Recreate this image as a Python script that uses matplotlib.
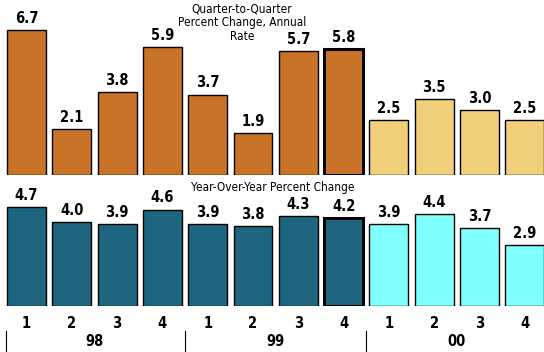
import matplotlib.pyplot as plt
from matplotlib.transforms import blended_transform_factory

quarters = ["1", "2", "3", "4", "1", "2", "3", "4", "1", "2", "3", "4"]
years = ["98", "99", "00"]
qoq = [6.7, 2.1, 3.8, 5.9, 3.7, 1.9, 5.7, 5.8, 2.5, 3.5, 3.0, 2.5]
yoy = [4.7, 4.0, 3.9, 4.6, 3.9, 3.8, 4.3, 4.2, 3.9, 4.4, 3.7, 2.9]
n_actual = 8  # first 8 quarters are actuals, rest forecast

plt.rcParams['font.family'] = ['DejaVu Sans']
plt.rcParams['font.stretch'] = 'condensed'

W, H = 544, 352
fig = plt.figure(figsize=(W / 100, H / 100), dpi=100)

pitch = 45.3
x0 = 26.5
xlim = (-x0 / pitch, (W - x0) / pitch)

# axes rectangles in pixels: (bottom, height)
ax_top = fig.add_axes([0, 177.5 / H, 1, 174.5 / H])
ax_bot = fig.add_axes([0, 46.3 / H, 1, 125 / H])

panels = [
    (ax_top, qoq, "#C97328", "#F2CF7B", 174.5 / 21.6),
    (ax_bot, yoy, "#1E6680", "#80FFFF", 125 / 20.9),
]

xs = list(range(len(quarters)))
for ax, vals, c_act, c_fc, ytop in panels:
    colors = [c_act if i < n_actual else c_fc for i in xs]
    lws = [2.2 if i == n_actual - 1 else 1.0 for i in xs]
    bars = ax.bar(xs, vals, width=0.86, color=colors, edgecolor="black", linewidth=lws)
    for b, v in zip(bars, vals):
        ax.annotate(f"{v:.1f}", (b.get_x() + b.get_width() / 2, v),
                    xytext=(0, 3), textcoords="offset points",
                    ha="center", va="bottom", fontsize=10.5, fontweight="bold")
    ax.set_xlim(*xlim)
    ax.set_ylim(0, ytop)
    ax.axis("off")

# panel titles, one line per text
top_title = ["Quarter-to-Quarter", "Percent Change, Annual", "Rate"]
for line, ypx in zip(top_title, [8.5, 22.5, 36.5]):
    fig.text(242 / W, 1 - ypx / H, line, ha="center", va="center",
             fontsize=8.5, fontweight="medium")
fig.text(273 / W, 1 - 188 / H, "Year-Over-Year Percent Change",
         ha="center", va="center", fontsize=8.5, fontweight="medium")

# quarter and year labels under the lower panel
trans = blended_transform_factory(ax_bot.transData, fig.transFigure)
for i, q in enumerate(quarters):
    ax_bot.text(i, 1 - 323 / H, q, transform=trans, ha="center", va="center",
                fontsize=10.5, fontweight="bold")
for k, y in enumerate(years):
    ax_bot.text(4 * k + 1.5, 1 - 341 / H, y, transform=trans, ha="center", va="center",
                fontsize=10.5, fontweight="bold")
for xv in [-0.45, 3.5, 7.5]:
    ax_bot.plot([xv, xv], [0, 1 - 331 / H], transform=trans, color="black",
                linewidth=0.8, clip_on=False)

fig.savefig("out.png", dpi=100)
